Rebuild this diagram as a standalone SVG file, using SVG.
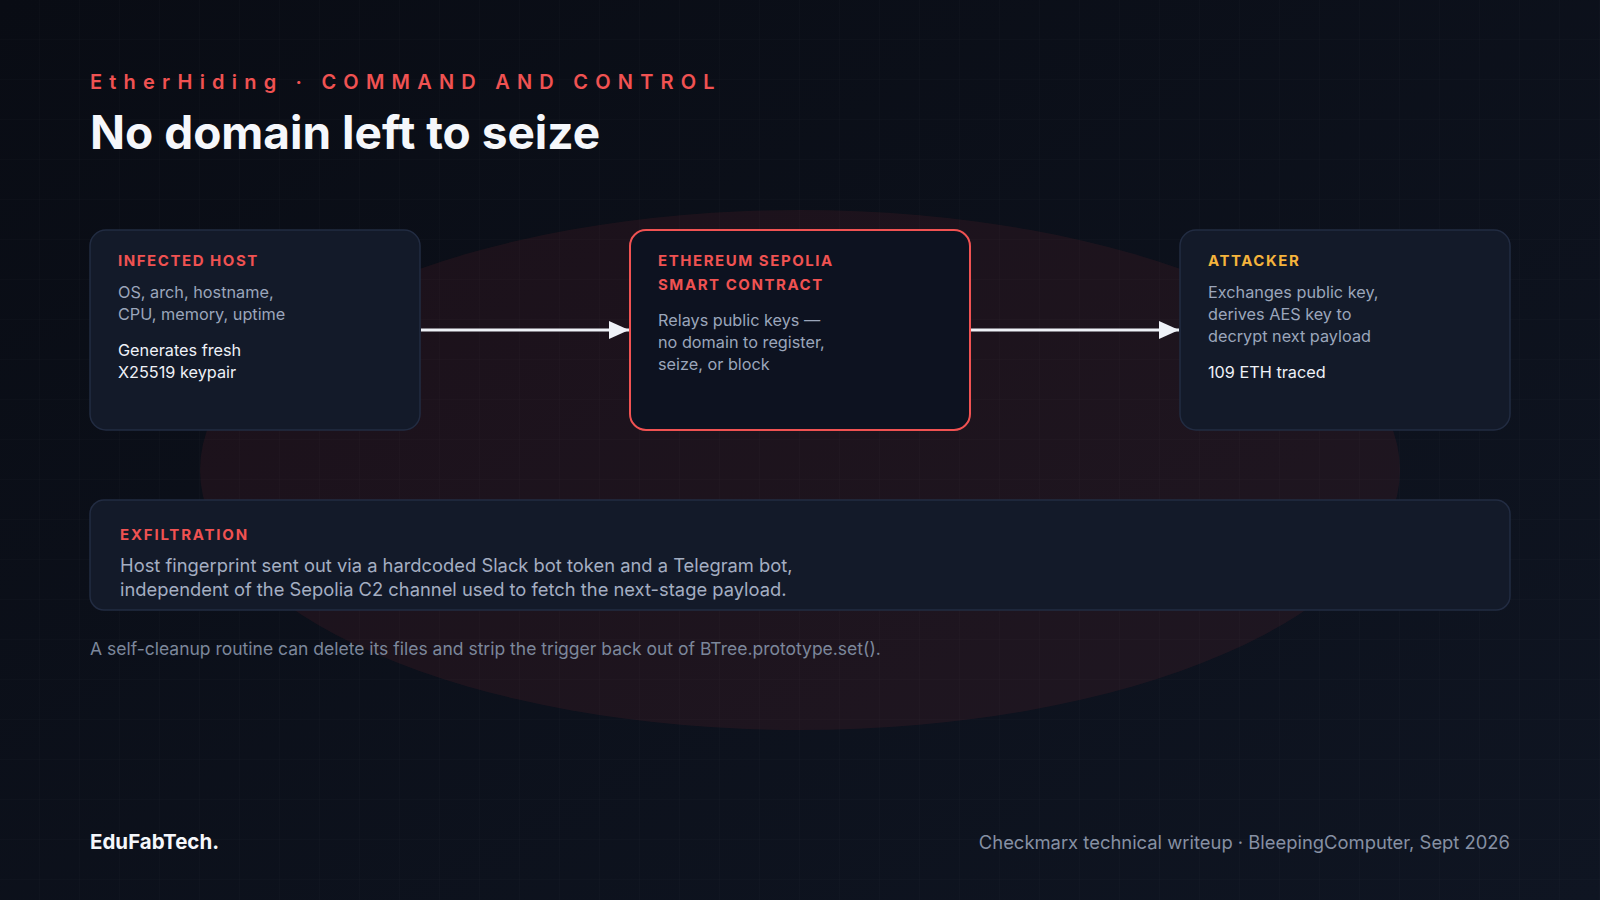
<svg xmlns="http://www.w3.org/2000/svg" width="1600" height="900" viewBox="0 0 1600 900">
  <defs>
    <linearGradient id="bg" x1="0" y1="0" x2="1" y2="1">
      <stop offset="0" stop-color="#090c14"/>
      <stop offset="1" stop-color="#0f1522"/>
    </linearGradient>
    <pattern id="grid" width="40" height="40" patternUnits="userSpaceOnUse">
      <path d="M40 0V40M0 40H40" fill="none" stroke="#ffffff" stroke-opacity="0.025" stroke-width="1"/>
    </pattern>
    <marker id="arrow" viewBox="0 0 20 18" refX="20" refY="9" markerWidth="20" markerHeight="18" markerUnits="userSpaceOnUse" orient="auto">
      <path d="M0 0L20 9L0 18Z" fill="#eef1f7"/>
    </marker>
    <style>
      .card{fill:#131a29;stroke:#222c42;stroke-width:1.5}
      .label{font-family:Inter,"Liberation Sans",sans-serif;font-size:15px;font-weight:700;letter-spacing:1.55px;fill:#f05252}
      .body{font-family:Inter,"Liberation Sans",sans-serif;font-size:16.25px;fill:#9ba6bb}
      .strong{font-family:Inter,"Liberation Sans",sans-serif;font-size:16.25px;fill:#eef1f7}
      .conn{stroke:#eef1f7;stroke-width:3;fill:none}
    </style>
  </defs>
  <rect width="1600" height="900" fill="url(#bg)"/>
  <ellipse cx="800" cy="470" rx="600" ry="260" fill="#ef4444" fill-opacity="0.075"/>
  <rect width="1600" height="900" fill="url(#grid)"/>

  <g id="header">
    <text x="90" y="89" font-family="Inter,'Liberation Sans',sans-serif" font-size="20" font-weight="600" letter-spacing="7.2" fill="#f05252">EtherHiding · COMMAND AND CONTROL</text>
    <text x="90" y="149" font-family="Inter,'Liberation Sans',sans-serif" font-size="46" font-weight="700" fill="#f5f7fb">No domain left to seize</text>
  </g>

  <g id="connectors">
    <line class="conn" x1="421" y1="330" x2="629" y2="330" marker-end="url(#arrow)"/>
    <line class="conn" x1="971" y1="330" x2="1179" y2="330" marker-end="url(#arrow)"/>
  </g>

  <g id="infected-host">
    <rect class="card" x="90" y="230" width="330" height="200" rx="16"/>
    <text class="label" x="118" y="266">INFECTED HOST</text>
    <text class="body" x="118" y="298">OS, arch, hostname,</text>
    <text class="body" x="118" y="320">CPU, memory, uptime</text>
    <text class="strong" x="118" y="356">Generates fresh</text>
    <text class="strong" x="118" y="378">X25519 keypair</text>
  </g>

  <g id="smart-contract">
    <rect x="630" y="230" width="340" height="200" rx="16" fill="#0d1220" stroke="#f05252" stroke-width="2"/>
    <text class="label" x="658" y="266">ETHEREUM SEPOLIA</text>
    <text class="label" x="658" y="290">SMART CONTRACT</text>
    <text class="body" x="658" y="326">Relays public keys —</text>
    <text class="body" x="658" y="348">no domain to register,</text>
    <text class="body" x="658" y="370">seize, or block</text>
  </g>

  <g id="attacker">
    <rect class="card" x="1180" y="230" width="330" height="200" rx="16"/>
    <text class="label" x="1208" y="266" style="fill:#f5b43c">ATTACKER</text>
    <text class="body" x="1208" y="298">Exchanges public key,</text>
    <text class="body" x="1208" y="320">derives AES key to</text>
    <text class="body" x="1208" y="342">decrypt next payload</text>
    <text class="strong" x="1208" y="378">109 ETH traced</text>
  </g>

  <g id="exfiltration">
    <rect class="card" x="90" y="500" width="1420" height="110" rx="14"/>
    <text class="label" x="120" y="540" style="letter-spacing:1.8px">EXFILTRATION</text>
    <text class="body" x="120" y="572" style="font-size:18.35px;fill:#a4aec2">Host fingerprint sent out via a hardcoded Slack bot token and a Telegram bot,</text>
    <text class="body" x="120" y="596" style="font-size:18.35px;fill:#a4aec2">independent of the Sepolia C2 channel used to fetch the next-stage payload.</text>
  </g>

  <g id="note">
    <text x="90" y="655" font-family="Inter,'Liberation Sans',sans-serif" font-size="17.5" fill="#7c879b">A self-cleanup routine can delete its files and strip the trigger back out of BTree.prototype.set().</text>
  </g>

  <g id="footer">
    <text x="90" y="849" font-family="Inter,'Liberation Sans',sans-serif" font-size="20.5" font-weight="700" fill="#f5f7fb">EduFabTech.</text>
    <text x="1510" y="849" text-anchor="end" font-family="Inter,'Liberation Sans',sans-serif" font-size="18.4" fill="#8690a3">Checkmarx technical writeup · BleepingComputer, Sept 2026</text>
  </g>
</svg>
